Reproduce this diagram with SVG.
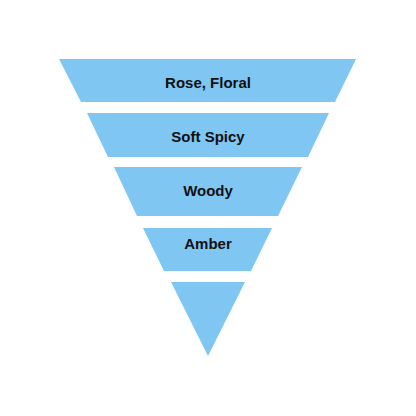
<svg xmlns="http://www.w3.org/2000/svg" width="416" height="416" viewBox="0 0 416 416">
<style>
.band{fill:#7fc6f2;}
.lbl{font-family:"Liberation Sans",Arial,sans-serif;font-weight:bold;font-size:15px;fill:#111;text-anchor:middle;dominant-baseline:central;}
</style>
<rect width="416" height="416" fill="#fff"/>
<g id="node-rose"><polygon class="band" points="59,59 356,59 335,102 81,102"/><text class="lbl" x="208" y="82">Rose, Floral</text></g>
<g id="node-spicy"><polygon class="band" points="87,113 329,113 308,157 108,157"/><text class="lbl" x="208" y="136">Soft Spicy</text></g>
<g id="node-woody"><polygon class="band" points="114,167 302,167 278,216 137,216"/><text class="lbl" x="208" y="190">Woody</text></g>
<g id="node-amber"><polygon class="band" points="143,228 272,228 251,271 164,271"/><text class="lbl" x="208" y="243">Amber</text></g>
<g id="node-tip"><polygon class="band" points="171,282 245,282 208,356"/></g>
<g id="connectors"></g>
</svg>
